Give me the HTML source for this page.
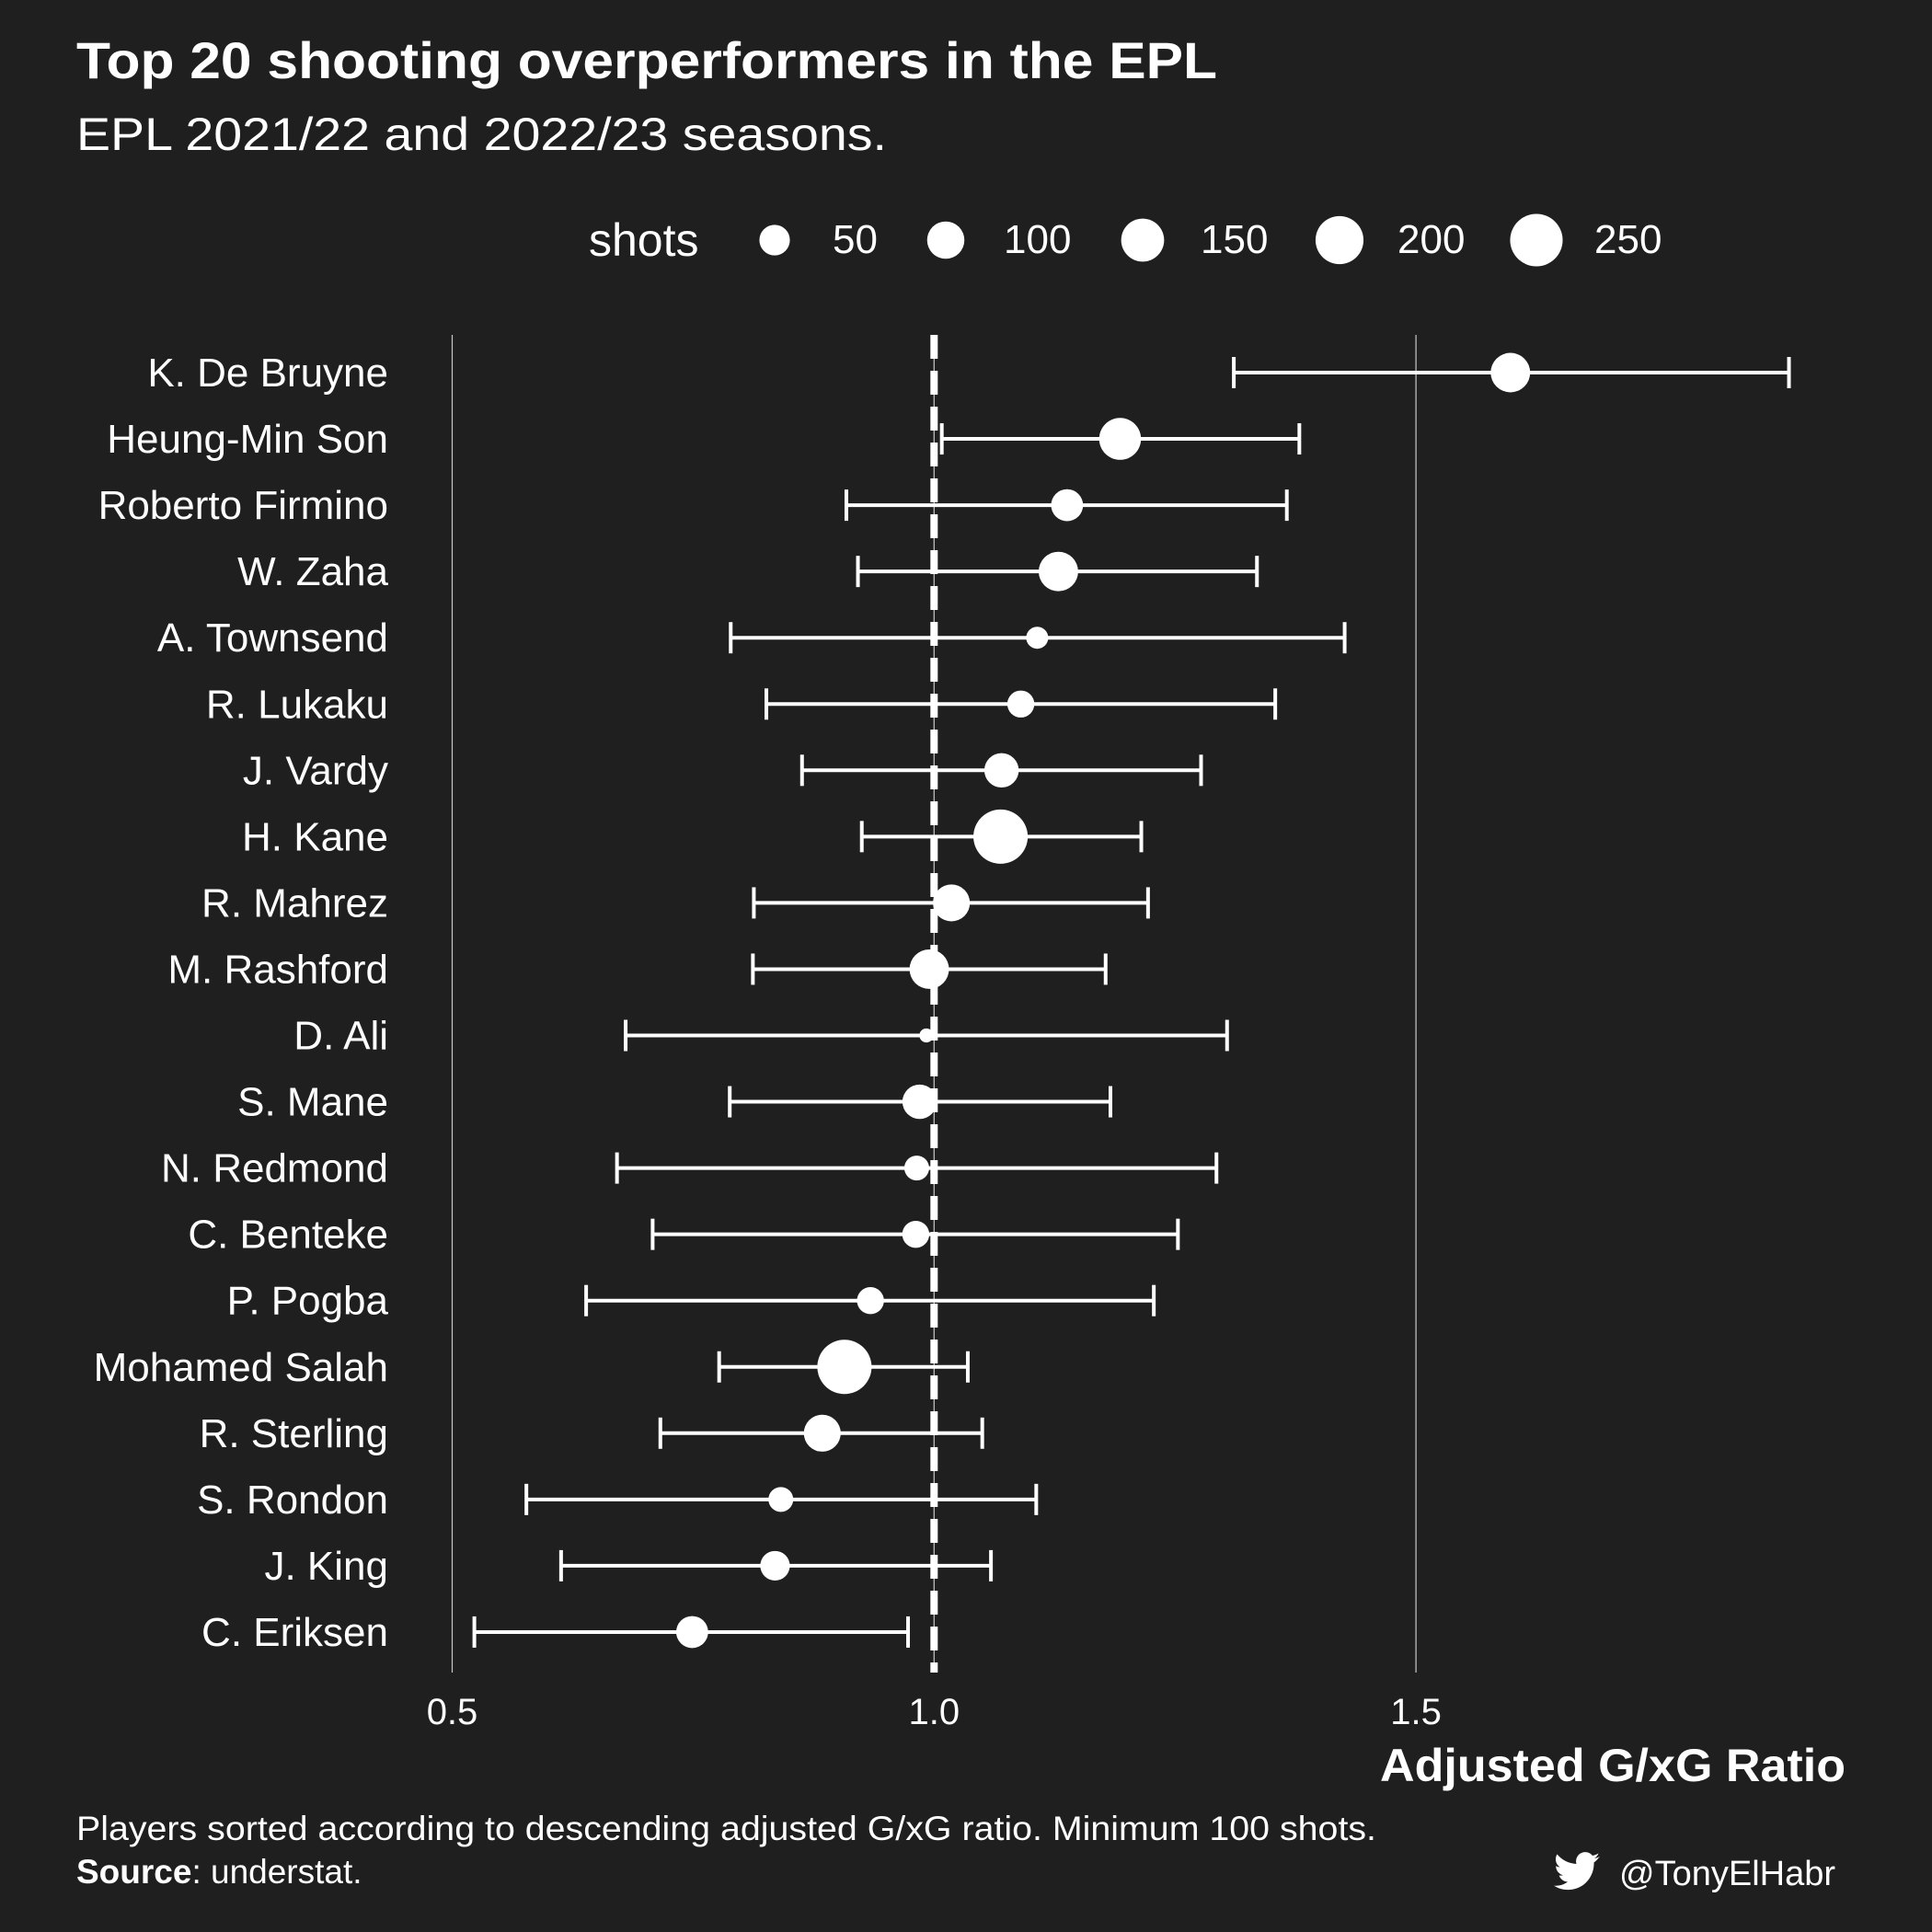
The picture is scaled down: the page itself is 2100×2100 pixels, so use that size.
<!DOCTYPE html>
<html><head><meta charset="utf-8"><style>
html,body{margin:0;padding:0;background:#1f1f1f;}
svg{display:block;font-family:"Liberation Sans",sans-serif;}
</style></head><body>
<svg id="chart" width="2100" height="2100" viewBox="0 0 2100 2100">
<rect width="2100" height="2100" fill="#1f1f1f"/>
<text x="83" y="85" fill="#fff" font-size="56" font-weight="bold" textLength="1240" lengthAdjust="spacingAndGlyphs">Top 20 shooting overperformers in the EPL</text>
<text x="83" y="163" fill="#fff" font-size="50" textLength="881" lengthAdjust="spacingAndGlyphs">EPL 2021/22 and 2022/23 seasons.</text>
<g id="legend">
<text x="640" y="278" fill="#fff" font-size="50">shots</text>
</g>
<g id="grid"></g>
<g id="marks"></g>
<text x="2006" y="1936" fill="#fff" font-size="50" font-weight="bold" text-anchor="end" textLength="506" lengthAdjust="spacingAndGlyphs">Adjusted G/xG Ratio</text>
<text x="83" y="2000" fill="#fff" font-size="37" textLength="1413" lengthAdjust="spacingAndGlyphs">Players sorted according to descending adjusted G/xG ratio. Minimum 100 shots.</text>
<text x="83" y="2047" fill="#fff" font-size="37"><tspan font-weight="bold">Source</tspan>: understat.</text>
<g>
<path d="M1695 2026c-2 1-4 1.5-6 2 2-1.3 3.8-3.2 4.5-5.5-2 1.2-4.2 2-6.5 2.5a10 10 0 0 0-17.5 9c-8.5-.4-16-4.5-21-10.5-3 5-1.300 11.3 3.2 14-1.6 0-3.2-.5-4.5-1.2 0 4.8 3.4 9 8 10-1.5.4-3 .5-4.5.2 1.3 4 5 6.8 9.3 6.9-4.2 3.3-9.6 4.8-15 4.2 4.5 2.9 9.8 4.5 15.3 4.5 18.5 0 28.8-15.7 28.2-29.6 2-1.4 3.7-3.2 5-5z" transform="translate(44,-8)" fill="#fff"/>
<text x="1995" y="2049" fill="#fff" font-size="38" text-anchor="end">@TonyElHabr</text>
</g>
</svg>
<script>
const players = ["K. De Bruyne","Heung-Min Son","Roberto Firmino","W. Zaha","A. Townsend","R. Lukaku","J. Vardy","H. Kane","R. Mahrez","M. Rashford","D. Ali","S. Mane","N. Redmond","C. Benteke","P. Pogba","Mohamed Salah","R. Sterling","S. Rondon","J. King","C. Eriksen"];
const ratio = [1.598,1.193,1.138,1.129,1.107,1.090,1.070,1.069,1.018,0.995,0.992,0.985,0.982,0.981,0.934,0.907,0.884,0.841,0.835,0.749];
const lower = [1.311,1.008,0.909,0.921,0.789,0.826,0.863,0.925,0.813,0.812,0.680,0.788,0.671,0.708,0.639,0.777,0.716,0.577,0.613,0.523];
const upper = [1.887,1.379,1.366,1.335,1.426,1.354,1.277,1.215,1.222,1.178,1.304,1.183,1.293,1.253,1.228,1.035,1.050,1.106,1.059,0.973];
const shots = [184,196,151,184,118,133,161,270,172,184,100,161,126,133,133,270,172,126,142,151];
const xTicks = [0.5,1.0,1.5];
const xTickLabels = ["0.5","1.0","1.5"];
const legendShots = [50,100,150,200,250];

const NS="http://www.w3.org/2000/svg";
function mk(tag,attrs,parent){const e=document.createElementNS(NS,tag);for(const k in attrs)e.setAttribute(k,attrs[k]);parent.appendChild(e);return e;}
function xScale(v){return 491.5+(v-0.5)*1047.6;}
function yScale(i){return 405+i*72.05;}
function rData(s){return Math.sqrt(Math.max(30,4.79*(s-88)));}
function rLegend(s){return Math.sqrt(140+2.7*s);}
const grid=document.getElementById('grid'), marks=document.getElementById('marks'), legend=document.getElementById('legend');

xTicks.forEach((t,i)=>{
  const l=mk('line',{x1:xScale(t),x2:xScale(t),y1:364,y2:1818,stroke:'#c8c8c8','stroke-width':1.2},grid);
  
  
  const tx=mk('text',{x:xScale(t),y:1874,fill:'#fff','font-size':40,'text-anchor':'middle'},grid);
  tx.textContent=xTickLabels[i];
  
  
});
const ref=mk('line',{x1:xScale(1),x2:xScale(1),y1:364,y2:1818,stroke:'#fff','stroke-width':8,'stroke-dasharray':'26 13'},grid);



players.forEach((p,i)=>{
  const y=yScale(i);
  const lab=mk('text',{x:422,y:y+15,fill:'#fff','font-size':44,'text-anchor':'end'},marks);
  lab.textContent=p;
  
  
  const g=mk('g',{},marks);
  
  
  const x1=xScale(lower[i]),x2=xScale(upper[i]);
  mk('line',{x1:x1,x2:x2,y1:y,y2:y,stroke:'#fff','stroke-width':4},g);
  mk('line',{x1:x1,x2:x1,y1:y-17,y2:y+17,stroke:'#fff','stroke-width':4},g);
  mk('line',{x1:x2,x2:x2,y1:y-17,y2:y+17,stroke:'#fff','stroke-width':4},g);
  const c=mk('circle',{cx:xScale(ratio[i]),cy:y,r:rData(shots[i]),fill:'#fff'},marks);
  
  
});

let lx=842;
legendShots.forEach((s,i)=>{
  const c=mk('circle',{cx:lx,cy:261,r:rLegend(s),fill:'#fff'},legend);
  
  
  const t=mk('text',{x:lx+63,y:275,fill:'#fff','font-size':44},legend);
  t.textContent=String(s);
  
  
  lx += (i===0?186:214);
});
</script>
</body></html>
